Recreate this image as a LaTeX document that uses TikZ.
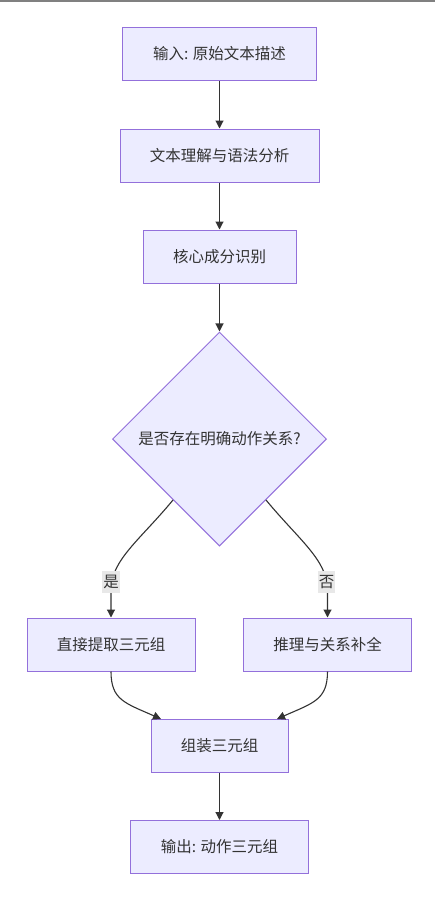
\documentclass[tikz,border=0pt]{standalone}
\usepackage{fontspec}
\setmainfont{Noto Sans CJK SC}
\usetikzlibrary{shapes.geometric,arrows.meta}
\definecolor{boxfill}{HTML}{ECECFF}
\definecolor{boxdraw}{HTML}{9370DB}
\definecolor{linec}{HTML}{333333}
\definecolor{lblbg}{HTML}{E8E8E8}
\begin{document}
\begin{tikzpicture}[x=1pt,y=-1pt,
  every node/.style={font=\fontsize{15.5}{18}\selectfont, text=linec},
  procbox/.style={draw=boxdraw, fill=boxfill, line width=1pt, inner sep=0pt, minimum height=53pt},
  decbox/.style={draw=boxdraw, fill=boxfill, line width=1pt, diamond, aspect=1, inner sep=0pt, minimum width=214pt, minimum height=214pt},
  flow/.style={draw=linec, line width=1.1pt, -{Triangle[length=8pt,width=8pt]}},
  lbl/.style={fill=lblbg, inner sep=1pt, minimum height=22pt}
]
\useasboundingbox (0,0) rectangle (435,899);
\fill[white] (0,0) rectangle (435,899);
\coordinate (tl) at (0,0.8);
\coordinate (tr) at (435,0.8);
\draw[gray, line width=1.6pt] (tl) -- (tr);

\node[procbox, minimum width=194pt] (b1) at (219.5,54) {输入: 原始文本描述};
\node[procbox, minimum width=199pt] (b2) at (219.5,155.5) {文本理解与语法分析};
\node[procbox, minimum width=153pt] (b3) at (219.5,256.5) {核心成分识别};
\node[decbox] (d) at (219.5,439) {是否存在明确动作关系?};
\node[procbox, minimum width=168pt] (b4) at (111,644.5) {直接提取三元组};
\node[procbox, minimum width=168pt] (b5) at (327.5,644.5) {推理与关系补全};
\node[procbox, minimum width=137pt] (b6) at (219.5,745.5) {组装三元组};
\node[procbox, minimum width=178pt] (b7) at (219.5,847) {输出: 动作三元组};

\draw[flow] (b1) -- (b2);
\draw[flow] (b2) -- (b3);
\draw[flow] (b3) -- (d);

\coordinate (dl) at (173,500);
\coordinate (dr) at (266,500);
\draw[flow] (dl) .. controls (140,540) and (111,560) .. (111,590) -- (b4.north);
\draw[flow] (dr) .. controls (299,540) and (327.5,560) .. (327.5,590) -- (b5.north);
\node[lbl] (ly) at (111,582) {是};
\node[lbl] (ln) at (326.5,582) {否};

\coordinate (b6l) at (161,719);
\coordinate (b6r) at (277,719);
\draw[flow] (b4.south) .. controls (111,700) and (125,703) .. (b6l);
\draw[flow] (b5.south) .. controls (327.5,700) and (313,703) .. (b6r);
\draw[flow] (b6) -- (b7);
\end{tikzpicture}
\end{document}
